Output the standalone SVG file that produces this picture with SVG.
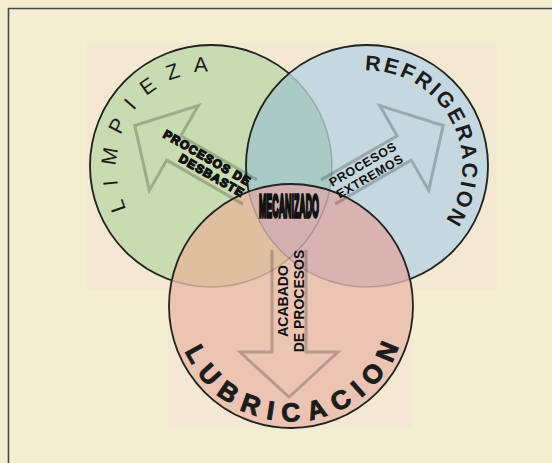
<svg xmlns="http://www.w3.org/2000/svg" width="552" height="463" viewBox="0 0 552 463">
<style>
.lbl{font-family:"Liberation Sans",Arial,sans-serif;fill:#1c1c1c}
.arr{fill:none;stroke:#000;stroke-opacity:0.22;stroke-width:3;stroke-linejoin:miter}
.atxt{font-family:"Liberation Sans",Arial,sans-serif;font-weight:bold;fill:#111}
.dark{fill:none;stroke:#222;stroke-width:1.8}
.faint{fill:none;stroke:#000;stroke-opacity:0.18;stroke-width:1.5}
</style>
<defs>
<clipPath id="cG"><circle cx="211" cy="166" r="121"/></clipPath>
<clipPath id="cB"><circle cx="367" cy="166" r="121"/></clipPath>
<clipPath id="cR"><circle cx="291" cy="306" r="122"/></clipPath>
<mask id="mOutR" maskUnits="userSpaceOnUse" x="0" y="0" width="552" height="463">
<rect width="552" height="463" fill="#fff"/><circle cx="291" cy="306" r="122" fill="#000"/>
</mask>
<mask id="mOutBR" maskUnits="userSpaceOnUse" x="0" y="0" width="552" height="463">
<rect width="552" height="463" fill="#fff"/><circle cx="291" cy="306" r="122" fill="#000"/><circle cx="367" cy="166" r="121" fill="#000"/>
</mask>
<path id="pL" d="M138.6,226.7 A94.5,94.5 0 0 1 227.4,72.9"/>
<path id="pRf" d="M342.3,73.8 A95.5,95.5 0 0 1 430.9,237"/>
<path id="pLu" d="M177.7,326 A115,115 0 0 0 404.3,326"/>
<path id="arrowShape" d="M0,-14 H88 V-49 L133,0 L88,49 V14 H0"/>
</defs>

<rect width="552" height="463" fill="#f3edd2"/>
<rect x="86" y="43" width="411" height="247" fill="#f3e9d3"/>
<rect x="168" y="290" width="244" height="138" fill="#f3e9d3"/>
<path d="M8.5,463 V8.5 H552" fill="none" stroke="#4a4a46" stroke-width="1.6"/>

<g id="fills">
<circle cx="211" cy="166" r="121" fill="#c8dbb1"/>
<circle cx="367" cy="166" r="121" fill="#c5d7df"/>
<circle cx="291" cy="306" r="122" fill="#ecc4b4"/>
<g clip-path="url(#cB)"><circle cx="211" cy="166" r="121" fill="#a9cbc4"/></g>
<g clip-path="url(#cR)"><circle cx="211" cy="166" r="121" fill="#dfbfa0"/></g>
<g clip-path="url(#cR)"><circle cx="367" cy="166" r="121" fill="#d9b2b2"/></g>
<g clip-path="url(#cR)"><g clip-path="url(#cB)"><circle cx="211" cy="166" r="121" fill="#d3b1b3"/></g></g>
</g>

<g id="connectors">
<use href="#arrowShape" class="arr" transform="translate(250,192) rotate(210)"/>
<use href="#arrowShape" class="arr" transform="translate(328,192) rotate(-30)"/>
<path class="arr" d="M0,-17 H102 V-49 L147,0 L102,49 V17 H0" transform="translate(289,250) rotate(90)"/>
</g>

<g id="outlines">
<circle cx="211" cy="166" r="121" class="faint"/>
<circle cx="367" cy="166" r="121" class="faint"/>
<circle cx="211" cy="166" r="121" class="dark" mask="url(#mOutBR)"/>
<circle cx="367" cy="166" r="121" class="dark" mask="url(#mOutR)"/>
<circle cx="291" cy="306" r="122" class="dark"/>
</g>

<g id="node-limpieza">
<text class="lbl" font-size="21" letter-spacing="13.4"><textPath href="#pL" startOffset="53.3%" text-anchor="middle">LIMPIEZA</textPath></text>
<g transform="translate(247,188) rotate(30)">
<text class="atxt" font-size="12" letter-spacing="1" text-anchor="end" stroke="#111" stroke-width="1.3" y="-2">PROCESOS DE</text>
<text class="atxt" font-size="12" letter-spacing="1" text-anchor="end" stroke="#111" stroke-width="1.3" y="11">DESBASTE</text>
</g>
</g>

<g id="node-refrigeracion">
<text class="lbl" font-size="21.5" font-weight="bold" letter-spacing="2.4"><textPath href="#pRf" startOffset="50.5%" text-anchor="middle">REFRIGERACION</textPath></text>
<g transform="translate(328,192) rotate(-30)">
<text class="atxt" font-size="12.5" letter-spacing="0.6" text-anchor="middle" x="44" y="-2.3">PROCESOS</text>
<text class="atxt" font-size="12.5" letter-spacing="0.6" text-anchor="middle" x="44" y="11.7">EXTREMOS</text>
</g>
</g>

<g id="node-lubricacion">
<text class="lbl" font-size="26" font-weight="bold" stroke="#1c1c1c" stroke-width="1" letter-spacing="9.2"><textPath href="#pLu" startOffset="52.2%" text-anchor="middle">LUBRICACION</textPath></text>
<text class="atxt" font-size="14" text-anchor="middle" transform="translate(288,301) rotate(-90)">ACABADO</text>
<text class="atxt" font-size="14" text-anchor="middle" transform="translate(304,301) rotate(-90)">DE PROCESOS</text>
</g>

<g id="node-center">
<text class="atxt" font-size="32" text-anchor="middle" x="289" y="217" textLength="60" lengthAdjust="spacingAndGlyphs" stroke="#111" stroke-width="3.4">MECANIZADO</text>
</g>
</svg>
